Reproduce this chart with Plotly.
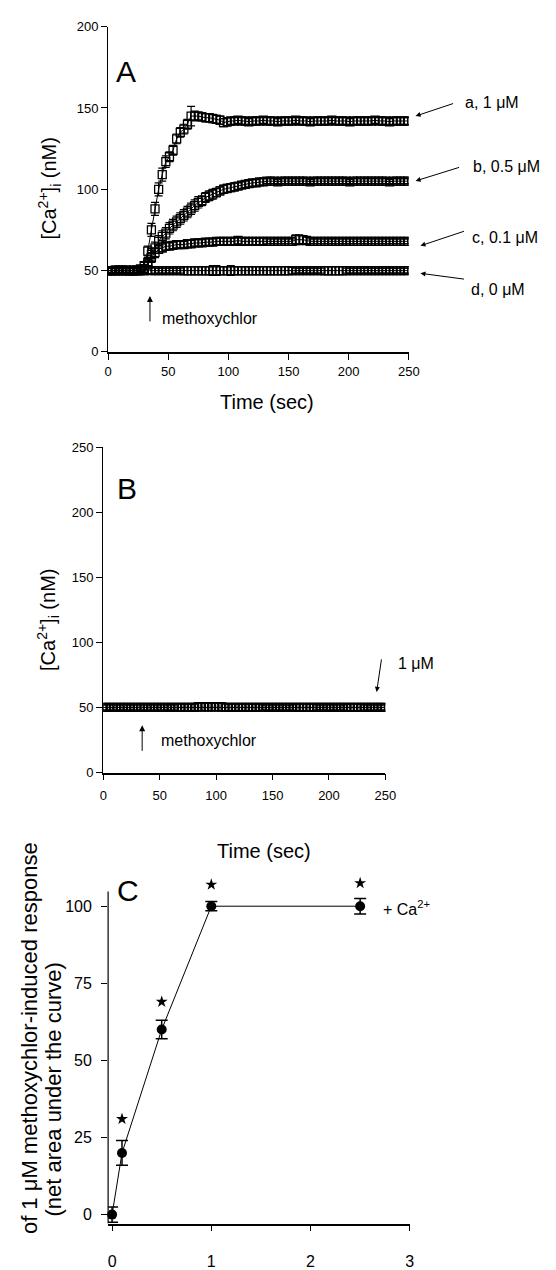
import plotly.graph_objects as go

W, H = 556, 1270
FONT = "Liberation Sans, Arial, sans-serif"

# ---------------- data ----------------
time_a = list(range(0, 250, 3))  # sampling grid (sec)

ca_1uM = [50, 50, 50.5, 50, 50, 50.5, 50, 50, 50.5, 51,
          53, 62, 75, 88, 100, 109, 117, 120, 124, 131, 135, 137, 140, 145,
          145, 145, 144.5, 144, 144, 143.5, 143, 142.5, 141, 141.5,
          142, 142, 142.5, 142, 142, 141.5, 142, 142, 142, 142.5,
          142, 142, 142, 141.5, 142, 142, 142, 142, 142.5, 142,
          142, 142, 141.5, 142, 142, 142, 142, 142, 142.5, 142,
          142, 142, 142, 141.5, 142, 142, 142, 142, 142, 142,
          142.5, 142, 142, 142, 141.5, 142, 142, 142, 142, 142]
err_1uM = [1.5, 1.5, 1.5, 1.5, 1.5, 1.5, 1.5, 1.5, 1.5, 1.5,
           2, 3, 4, 4, 4, 4, 3.5, 3, 3, 3, 3, 3, 3, 6,
           3, 2.5, 2.5, 2.5, 2.5, 2.5, 2.5, 2.5, 2.5, 2.5,
           2, 2, 2, 2, 2, 2, 2, 2, 2, 2,
           2, 2, 2, 2, 2, 2, 2, 2, 2, 2,
           2, 2, 2, 2, 2, 2, 2, 2, 2, 2,
           2, 2, 2, 2, 2, 2, 2, 2, 2, 2,
           2, 2, 2, 2, 2, 2, 2, 2, 2, 2]

ca_05uM = [50, 50, 50, 50.5, 50, 50, 50, 50.5, 50, 50.5,
           51, 55, 60, 64, 68, 71, 73, 76, 78, 80, 82, 84, 86, 88,
           90, 92, 93, 95, 96, 97, 98, 99, 100, 100.5,
           101, 101.5, 102, 102.5, 103, 103.5, 104, 104, 104.5, 104.5,
           105, 105, 105, 104.5, 105, 105, 105, 105, 105, 105,
           105, 105, 104.5, 105, 105, 105, 105, 105, 105, 105,
           105, 105, 105, 104.5, 105, 105, 105, 105, 105, 105,
           105, 105, 105, 105, 104.5, 105, 105, 105, 105, 105]
err_05uM = [1.5, 1.5, 1.5, 1.5, 1.5, 1.5, 1.5, 1.5, 1.5, 1.5,
            2, 3, 3.5, 3.5, 3.5, 3.5, 3.5, 3.5, 3.5, 3.5, 3.5, 3.5, 3.5, 3.5,
            3.5, 3.5, 3, 3, 3, 3, 2.5, 2.5, 2.5, 2.5,
            2.5, 2.5, 2, 2, 2, 2, 2, 2, 2, 2,
            1.5, 1.5, 1.5, 1.5, 1.5, 1.5, 1.5, 1.5, 1.5, 1.5,
            1.5, 1.5, 1.5, 1.5, 1.5, 1.5, 1.5, 1.5, 1.5, 1.5,
            1.5, 1.5, 1.5, 1.5, 1.5, 1.5, 1.5, 1.5, 1.5, 1.5,
            1.5, 1.5, 1.5, 1.5, 1.5, 1.5, 1.5, 1.5, 1.5, 1.5]

ca_01uM = [50, 50, 50, 50, 50.5, 50, 50, 50, 50, 50.5,
           51, 54, 58, 61, 63, 64, 65, 65, 65.5, 66, 66, 66, 66.5, 66.5,
           67, 67, 67, 67.5, 67.5, 67.5, 68, 68, 68, 68,
           68, 68, 68.5, 68, 68, 68, 68, 68, 68, 68,
           68, 68, 68, 68, 68, 68, 68, 68, 69, 69,
           69, 68.5, 68, 68, 68, 68, 68, 68, 68, 68,
           68, 68, 68, 68, 68, 68, 68, 68, 68, 68,
           68, 68, 68, 68, 68, 68, 68, 68, 68, 68]
err_01uM = [1.5, 1.5, 1.5, 1.5, 1.5, 1.5, 1.5, 1.5, 1.5, 1.5,
            2, 3, 3, 3, 2.5, 2.5, 2.5, 2, 2, 2, 2, 2, 2, 2,
            2, 2, 2, 2, 2, 2, 2, 2, 2, 2,
            2, 2, 2, 2, 2, 2, 2, 2, 2, 2,
            1.5, 1.5, 1.5, 1.5, 1.5, 1.5, 1.5, 1.5, 3, 3,
            2.5, 2, 1.5, 1.5, 1.5, 1.5, 1.5, 1.5, 1.5, 1.5,
            1.5, 1.5, 1.5, 1.5, 1.5, 1.5, 1.5, 1.5, 1.5, 1.5,
            1.5, 1.5, 1.5, 1.5, 1.5, 1.5, 1.5, 1.5, 1.5, 1.5]

ca_0uM = [50, 50, 50, 50, 50, 50, 50, 50, 50, 50,
          50, 50.5, 50, 50, 50, 50, 50, 50, 50, 50, 50, 50, 50, 50,
          50, 50, 50, 50, 50, 50, 50, 50, 50, 50,
          50, 50, 50, 50, 50, 50, 50, 50, 50, 50,
          50, 50, 50, 50, 50, 50, 50, 50, 50, 50,
          50, 50, 50, 50, 50, 50, 50, 50, 50, 50,
          50, 50, 50, 50, 50, 50, 50, 50, 50, 50,
          50, 50, 50, 50, 50, 50, 50, 50, 50, 50]
err_0uM = [1.5, 1.5, 1.5, 1.5, 1.5, 1.5, 2.5, 2.5, 2.5, 2.5,
           2.5, 2.5, 2, 1.5, 1.5, 1.5, 1.5, 1.5, 1.5, 1.5, 1.5, 2.5, 2.5, 2.5,
           2.5, 2.5, 2.5, 2.5, 2.5, 3, 3, 2.5, 2.5, 2.5,
           3, 2.5, 2.5, 2.5, 2.5, 2.5, 2.5, 2.5, 2.5, 2.5,
           2.5, 2.5, 2.5, 2.5, 2.5, 2.5, 2.5, 2, 1.5, 1.5,
           1.5, 1.5, 1.5, 1.5, 1.5, 1.5, 2.5, 2.5, 2.5, 2.5,
           2.5, 2.5, 1.5, 1.5, 1.5, 1.5, 1.5, 1.5, 1.5, 1.5,
           1.5, 1.5, 1.5, 1.5, 1.5, 1.5, 1.5, 1.5, 1.5, 1.5]

time_b = list(range(0, 250, 3))
ca_b = [50, 50, 50, 50, 50, 50, 50, 50, 50, 50,
        50, 50, 50, 50, 50, 50, 50, 50, 50, 50, 50, 50, 50, 50,
        50, 50, 50, 50, 50.5, 50.5, 50.5, 50.5, 50.5, 50.5,
        50.5, 50.5, 50, 50, 50, 50, 50, 50, 50, 50,
        50, 50, 50, 50, 50, 50, 50, 50, 50, 50,
        50, 50, 50, 50, 50, 50, 50, 50, 50, 50,
        50, 50, 50, 50, 50, 50, 50, 50, 50, 50,
        50, 50, 50, 50, 50, 50, 50, 50, 50, 50]
err_b = [2, 2, 2, 2, 2, 2, 2, 2, 2, 2,
         2, 2, 2, 2, 2, 2, 2, 2, 2, 2, 2, 2, 2.5, 2.5,
         2.5, 2.5, 2.5, 2.5, 3, 3, 3, 3, 3, 3,
         3, 3, 2.5, 2.5, 2.5, 2.5, 2.5, 2.5, 2.5, 2.5,
         2.5, 2.5, 2.5, 2, 2, 2, 2, 2, 2, 2,
         2, 2, 2, 2.5, 2.5, 2.5, 2.5, 2.5, 2.5, 2,
         2, 2, 2, 2, 2, 2, 2, 2, 2.5, 2.5,
         2.5, 2.5, 2.5, 2, 2, 2, 2, 2, 2, 2]

conc_c = [0, 0.1, 0.5, 1, 2.5]
resp_c = [0, 20, 60, 100, 100]
err_c = [2.5, 4, 3, 1.5, 2.5]
star_x = [0.1, 0.5, 1, 2.5]
star_y = [31, 69, 107, 107.5]

# ---------------- helpers ----------------
def px(x):
    return x / W

def py(y):
    return 1 - y / H

fig = go.Figure()

def ladder(x, y, e, xa, ya):
    fig.add_trace(go.Scatter(
        x=x, y=y, xaxis=xa, yaxis=ya, mode="lines+markers",
        line=dict(color="black", width=1),
        marker=dict(symbol="square-open", size=8, color="black",
                    line=dict(width=1.3, color="black")),
        error_y=dict(type="data", array=e, visible=True, color="black",
                     thickness=1.2, width=4),
        showlegend=False, hoverinfo="skip"))

ladder(time_a, ca_0uM, err_0uM, "x", "y")
ladder(time_a, ca_01uM, err_01uM, "x", "y")
ladder(time_a, ca_05uM, err_05uM, "x", "y")
ladder(time_a, ca_1uM, err_1uM, "x", "y")
ladder(time_b, ca_b, err_b, "x2", "y2")

fig.add_trace(go.Scatter(
    x=conc_c, y=resp_c, xaxis="x3", yaxis="y3", mode="lines+markers",
    line=dict(color="black", width=1),
    marker=dict(symbol="circle", size=10, color="black"),
    error_y=dict(type="data", array=err_c, visible=True, color="black",
                 thickness=1.5, width=6),
    cliponaxis=False, showlegend=False, hoverinfo="skip"))
fig.add_trace(go.Scatter(
    x=star_x, y=star_y, xaxis="x3", yaxis="y3", mode="markers",
    marker=dict(symbol="star", size=9, color="black"),
    cliponaxis=False, showlegend=False, hoverinfo="skip"))

tickfont = dict(family=FONT, size=13, color="black")
common = dict(showgrid=False, zeroline=False, showline=True, linecolor="black",
              ticks="outside", ticklen=6, tickcolor="black", tickwidth=1.2,
              tickfont=tickfont)
bigtick = {**common, "tickfont": dict(family=FONT, size=16, color="black")}

# Panel C: y range extended above the drawn axis line so the stars fit
c_ybot, c_ytop_axis, c_ytop = -2.9, 104.8, 110.0
c_pix_bot, c_pix_axis = 1238, 900
c_pix_top = c_pix_bot - (c_pix_bot - c_pix_axis) * (c_ytop - c_ybot) / (c_ytop_axis - c_ybot)

fig.update_layout(
    width=W, height=H, margin=dict(l=0, r=0, t=0, b=0),
    paper_bgcolor="white", plot_bgcolor="white",
    xaxis=dict(domain=[px(107), px(416)], range=[0, 250], anchor="y",
               tickvals=[0, 50, 100, 150, 200, 250], linewidth=2, **common),
    yaxis=dict(domain=[py(351), py(20)], range=[0, 200], anchor="x",
               tickvals=[0, 50, 100, 150, 200], linewidth=1.2, **common),
    xaxis2=dict(domain=[px(102), px(392)], range=[0, 250], anchor="y2",
                tickvals=[0, 50, 100, 150, 200, 250], linewidth=1.5,
                ticklabelstandoff=4, **common),
    yaxis2=dict(domain=[py(779), py(448)], range=[0, 250], anchor="x2",
                tickvals=[0, 50, 100, 150, 200, 250], linewidth=1.2, **common),
    xaxis3=dict(domain=[px(107), px(417)], range=[-0.04, 3.0], anchor="y3",
                tickvals=[0, 1, 2, 3], linewidth=1.5, ticklabelstandoff=16,
                **bigtick),
    yaxis3=dict(domain=[py(c_pix_bot), py(c_pix_top)], range=[c_ybot, c_ytop],
                anchor="x3", tickvals=[0, 25, 50, 75, 100],
                ticklabelstandoff=6,
                **{**bigtick, "showline": False}),
    shapes=[dict(type="line", xref="x3 domain", yref="y3", x0=0, x1=0,
                 y0=c_ybot, y1=c_ytop_axis,
                 line=dict(color="black", width=1.2))],
)

ann = []

def text(x, y, s, size, xanchor="left", angle=0):
    ann.append(dict(x=px(x), y=py(y), xref="paper", yref="paper", text=s,
                    showarrow=False, xanchor=xanchor, yanchor="middle",
                    textangle=angle,
                    font=dict(family=FONT, size=size, color="black")))

def arrow(hx, hy, tx, ty, head=2, size=1.0):
    ann.append(dict(x=px(hx), y=py(hy), ax=tx - hx, ay=ty - hy,
                    xref="paper", yref="paper", axref="pixel", ayref="pixel",
                    text="", showarrow=True, arrowhead=head, arrowsize=size,
                    arrowwidth=1, arrowcolor="black"))

# Panel letters
text(113, 66, "A", 30)
text(114, 490, "B", 30)
text(114, 899, "C", 30)

# Axis titles
text(47, 185, "[Ca<sup>2+</sup>]<sub>i</sub> (nM)", 20, "center", -90)
text(45, 624, "[Ca<sup>2+</sup>]<sub>i</sub> (nM)", 20, "center", -90)
text(270, 402, "Time (sec)", 20, "center")
text(267, 859, "Time (sec)", 20, "center")
text(27, 1049, "of 1 μM methoxychlor-induced response", 22, "center", -90)
text(51, 1102, "(net area under the curve)", 22, "center", -90)

# Panel A labels
text(472, 97, "a, 1 μM", 16)
text(480, 162, "b, 0.5 μM", 16)
text(479, 235, "c, 0.1 μM", 16)
text(478, 287, "d, 0 μM", 16)
arrow(423, 111, 462, 98)
arrow(423, 177, 468, 163)
arrow(428, 243, 473, 228)
arrow(428, 271, 473, 277)
text(160, 317, "methoxychlor", 16)
arrow(150, 294, 150, 321, head=2, size=1.2)

# Panel B labels
text(159, 746, "methoxychlor", 16)
arrow(142, 731, 142, 758, head=2, size=1.2)
text(403, 668, "1 μM", 16)
arrow(383, 697, 388, 663)

# Panel C label
text(387, 917, "+ Ca<sup>2+</sup>", 16)

fig.update_layout(annotations=ann)
fig.write_html("out.html", config={"displayModeBar": False},
               post_script="document.body.style.margin='0px';")
